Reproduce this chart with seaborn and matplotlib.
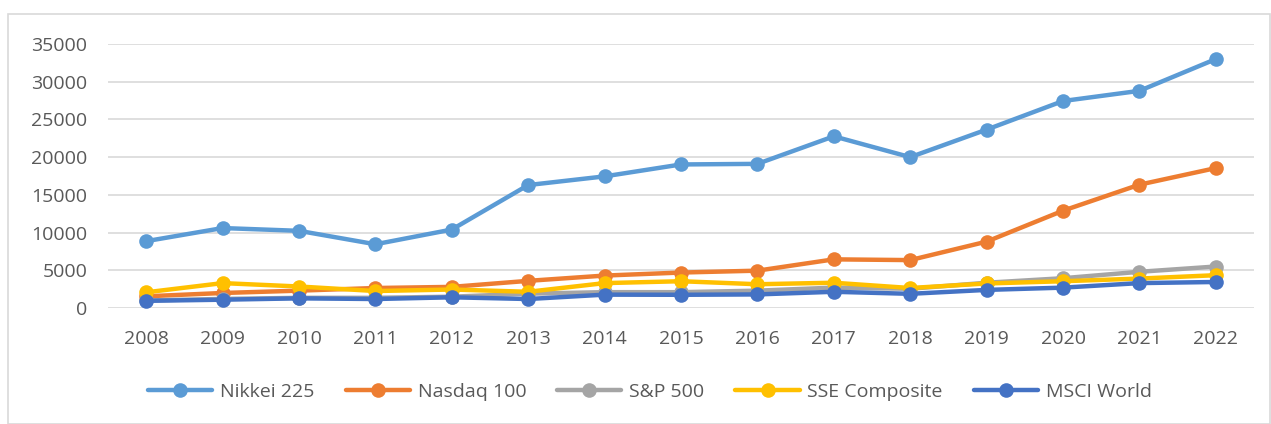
import pandas as pd
import seaborn as sns
import matplotlib.pyplot as plt
from matplotlib.patches import Rectangle

# valores
anos = [str(a) for a in range(2008, 2023)]
nikkei = [8860, 10600, 10230, 8450, 10400, 16300, 17450, 19030, 19110, 22760, 20000, 23650, 27440, 28790, 33000]
nasdaq = [1550, 1990, 2300, 2650, 2800, 3600, 4300, 4700, 4950, 6450, 6350, 8800, 12900, 16350, 18550]
sp500 = [1000, 1200, 1350, 1350, 1500, 1900, 2100, 2100, 2300, 2700, 2550, 3350, 3950, 4800, 5500]
sse = [2080, 3300, 2850, 2250, 2450, 2150, 3300, 3550, 3150, 3350, 2650, 3250, 3550, 3900, 4350]
msci = [950, 1100, 1280, 1190, 1420, 1190, 1770, 1750, 1800, 2150, 1880, 2400, 2700, 3300, 3450]

series = ['Nikkei 225', 'Nasdaq 100', 'S&P 500', 'SSE Composite', 'MSCI World']
cores = ['#5B9BD5', '#ED7D31', '#A5A5A5', '#FFC000', '#4472C4']

dados = pd.DataFrame({'Ano': anos, 'Nikkei 225': nikkei, 'Nasdaq 100': nasdaq,
                      'S&P 500': sp500, 'SSE Composite': sse, 'MSCI World': msci})
longo = dados.melt(id_vars='Ano', var_name='Indice', value_name='Valor')

sns.set_style('white')
plt.rcParams['font.family'] = ['Open Sans', 'DejaVu Sans']

fig = plt.figure(figsize=(12.71, 4.24), dpi=100)
ax = fig.add_axes([108 / 1271, 1 - 308 / 424, (1254 - 108) / 1271, (308 - 44) / 424])

# moldura externa
fig.patches.append(Rectangle((8 / 1271, 0), 1 - 8 / 1271 - 1 / 1271, 1 - 14 / 424,
                             transform=fig.transFigure, fill=False,
                             edgecolor='#D9D9D9', linewidth=1.2))

sns.lineplot(data=longo, x='Ano', y='Valor', hue='Indice', hue_order=series,
             palette=cores, marker='o', markersize=10.5, markeredgewidth=0,
             linewidth=3.2, sort=False, ax=ax)

ax.set_xlim(-0.5, 14.5)
ax.set_ylim(0, 35000)
ax.set_yticks(range(0, 35001, 5000))
ax.grid(axis='y', color='#D9D9D9', linewidth=1.2)
ax.set_axisbelow(True)
for lado in ['top', 'right', 'left', 'bottom']:
    ax.spines[lado].set_visible(False)
ax.tick_params(axis='both', length=0, labelsize=14, labelcolor='#595959')
ax.tick_params(axis='x', pad=16)
ax.tick_params(axis='y', pad=15)
ax.set_xlabel('')
ax.set_ylabel('')

ax.legend(loc='center', bbox_to_anchor=(650 / 1271, 1 - 392 / 424), bbox_transform=fig.transFigure,
          ncol=5, frameon=False, fontsize=14, handlelength=3.3, columnspacing=1.6,
          labelcolor='#595959', handletextpad=0.4)

fig.savefig('out.png', dpi=100)
